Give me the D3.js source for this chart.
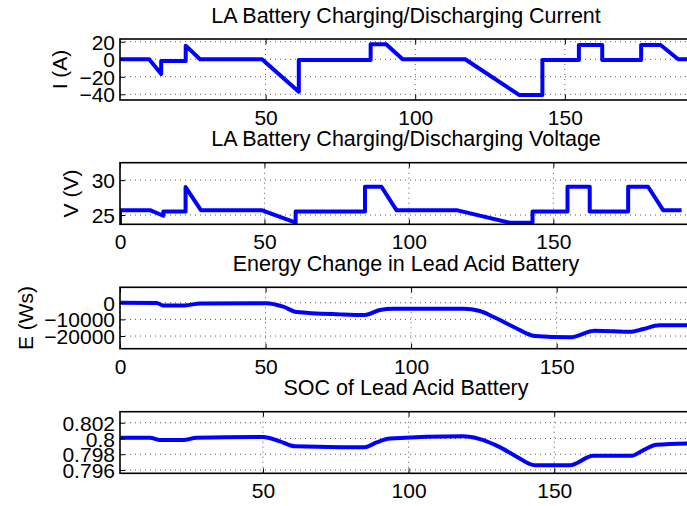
<!DOCTYPE html>
<html>
<head>
<meta charset="utf-8">
<script src="https://cdn.jsdelivr.net/npm/d3@7"></script>
<style>
  html, body { margin: 0; padding: 0; background: #fff; }
  svg { display: block; font-family: "Liberation Sans", Arial, Helvetica, sans-serif; }
</style>
</head>
<body>
<svg id="chart" width="687" height="506"></svg>
<script>
// Battery current (A) over time
const timeI = [0, 11.1, 15.1, 15.1, 23.3, 23.3, 28.1, 48.8, 61.1, 61.1, 85.1, 85.1, 90.3, 95.8, 116.7, 134.7, 142.5, 142.5, 154.7, 154.7, 162.5, 162.5, 175.5, 175.5, 182, 187.9, 195];
const current = [0, 0, -16.8, -2, -2, 15.5, 0, 0, -37, -1, -1, 17, 17, 0, 0, -40.7, -40.7, -0.8, -0.8, 16.3, 16.3, -0.8, -0.8, 16.3, 16.3, 0, 0];

// Battery voltage (V) over time
const timeV = [0, 0, 10.4, 15, 15, 22.7, 22.7, 28, 49, 60.8, 60.8, 84.8, 84.8, 90.5, 95.7, 116.5, 135, 142.8, 142.8, 154.9, 154.9, 162.6, 162.6, 175.9, 175.9, 182.8, 188, 194.4];
const voltage = [0, 25.7, 25.7, 24.9, 25.5, 25.5, 29, 25.7, 25.7, 23.9, 25.5, 25.5, 29.05, 29.05, 25.7, 25.7, 23.9, 23.9, 25.5, 25.5, 29.05, 29.05, 25.5, 25.5, 29.05, 29.05, 25.7, 25.7];

// Energy change (Ws) over time
const timeE = [0, 12.6, 14.8, 22.3, 27.5, 50.4, 56.1, 60.7, 75.5, 84.1, 89.3, 93.9, 117.9, 123.6, 128.2, 135.1, 142.5, 154.5, 163.1, 175.7, 179.7, 185.4, 196];
const energy = [0, -100, -1600, -1600, -400, -300, -2400, -5600, -7000, -7400, -4400, -3600, -3600, -5000, -8400, -14400, -20000, -20800, -16800, -17400, -15800, -13600, -13600];

// State of charge over time
const timeS = [1, 11.2, 14.7, 22.7, 27.2, 50.1, 55.6, 61, 76.4, 85, 89, 93.6, 118.7, 124.5, 131.3, 137.1, 143.3, 155.4, 163.4, 176.5, 180.5, 185.1, 196];
const soc = [0.8001, 0.8001, 0.7998, 0.7998, 0.8001, 0.8002, 0.79967, 0.7990, 0.7989, 0.7989, 0.7995, 0.8000, 0.80027, 0.79992, 0.7989, 0.79769, 0.79659, 0.79659, 0.7978, 0.7978, 0.7985, 0.7992, 0.79938];

// Axis ticks and labels
const xTickValues = [0, 50, 100, 150];
const ticksI = [-40, -20, 0, 20];
const ticksV = [25, 30];
const ticksE = [-20000, -10000, 0];
const ticksS = [0.796, 0.798, 0.8, 0.802];
const titles = [
  "LA Battery Charging/Discharging Current",
  "LA Battery Charging/Discharging Voltage",
  "Energy Change in Lead Acid Battery",
  "SOC of Lead Acid Battery"
];
const yLabels = ["I (A)", "V (V)", "E (Ws)", ""];

const svg = d3.select("#chart");
const left = 120, right = 692;
const fontSize = 21;
const titleSize = 21.5;

const fmt = v => (v < 0 ? "\u2212" + Math.abs(v) : String(v));

const panels = [
  { t: timeI, v: current, xDom: [1.34, 192.5], yDom: [-46.5, 23.1], yTicks: ticksI, top: 39, bottom: 100, labelX: 66.7, curve: d3.curveLinear },
  { t: timeV, v: voltage, xDom: [0, 198], yDom: [23.67, 32.5], yTicks: ticksV, top: 162.7, bottom: 224.3, labelX: 78.3, curve: d3.curveLinear },
  { t: timeE, v: energy, xDom: [0, 196.5], yDom: [-27600, 9250], yTicks: ticksE, top: 287.3, bottom: 348.7, labelX: 33.3, curve: d3.curveMonotoneX },
  { t: timeS, v: soc, xDom: [0.93, 197.3], yDom: [0.79558, 0.8034], yTicks: ticksS, top: 411.7, bottom: 473.3, labelX: 0, curve: d3.curveMonotoneX }
];

panels.forEach((p, i) => {
  const x = d3.scaleLinear().domain(p.xDom).range([left, right]);
  const y = d3.scaleLinear().domain(p.yDom).range([p.bottom, p.top]);
  const g = svg.append("g");
  const xt = xTickValues.filter(d => d >= p.xDom[0] && d <= p.xDom[1]);

  // dotted grid
  const grid = g.append("g").attr("stroke", "#222").attr("stroke-width", 1)
    .attr("stroke-dasharray", "1,4").attr("opacity", 0.75);
  xt.forEach(d => grid.append("line")
    .attr("x1", x(d)).attr("x2", x(d)).attr("y1", p.top).attr("y2", p.bottom));
  p.yTicks.forEach(d => grid.append("line")
    .attr("x1", left).attr("x2", right).attr("y1", y(d)).attr("y2", y(d)));

  // data line, clipped to the axes box
  const clipId = "clip" + i;
  svg.append("clipPath").attr("id", clipId).append("rect")
    .attr("x", left).attr("y", p.top).attr("width", right - left).attr("height", p.bottom - p.top);
  const pts = p.t.map((t, k) => [t, p.v[k]]);
  g.append("path")
    .attr("clip-path", `url(#${clipId})`)
    .attr("d", d3.line().x(d => x(d[0])).y(d => y(d[1])).curve(p.curve)(pts))
    .attr("fill", "none").attr("stroke", "#0000ff").attr("stroke-width", 4)
    .attr("stroke-linejoin", "round");

  // axes with inward ticks
  const axB = d3.axisBottom(x).tickValues(xt).tickSizeInner(-5).tickSizeOuter(0).tickFormat(fmt);
  const axT = d3.axisTop(x).tickValues(xt).tickSizeInner(-5).tickSizeOuter(0).tickFormat("");
  const axL = d3.axisLeft(y).tickValues(p.yTicks).tickSizeInner(-5).tickSizeOuter(0).tickFormat(fmt);

  const gb = g.append("g").attr("transform", `translate(0,${p.bottom})`).call(axB);
  const gt = g.append("g").attr("transform", `translate(0,${p.top})`).call(axT);
  const gl = g.append("g").attr("transform", `translate(${left},0)`).call(axL);
  [gb, gt, gl].forEach(a => {
    a.select(".domain").remove();
    a.selectAll("line").attr("stroke", "#000").attr("stroke-width", 1);
  });
  gb.selectAll("text").attr("dy", null).attr("y", 25).attr("font-size", fontSize)
    .attr("font-family", null).attr("fill", "#000");
  gl.selectAll("text").attr("x", -5).attr("dy", "0.36em")
    .attr("font-size", fontSize).attr("font-family", null).attr("fill", "#000");

  // axes box
  g.append("rect").attr("x", left).attr("y", p.top)
    .attr("width", right - left).attr("height", p.bottom - p.top)
    .attr("fill", "none").attr("stroke", "#000").attr("stroke-width", 1.6);

  // title
  g.append("text").attr("x", (left + right) / 2).attr("y", p.top - 16.3)
    .attr("text-anchor", "middle").attr("font-size", titleSize).attr("fill", "#000")
    .text(titles[i]);

  // y label
  if (yLabels[i]) {
    const cy = (p.top + p.bottom) / 2;
    g.append("text").attr("transform", `translate(${p.labelX},${cy}) rotate(-90)`)
      .attr("text-anchor", "middle").attr("font-size", fontSize).attr("fill", "#000")
      .text(yLabels[i]);
  }
});
</script>
</body>
</html>
